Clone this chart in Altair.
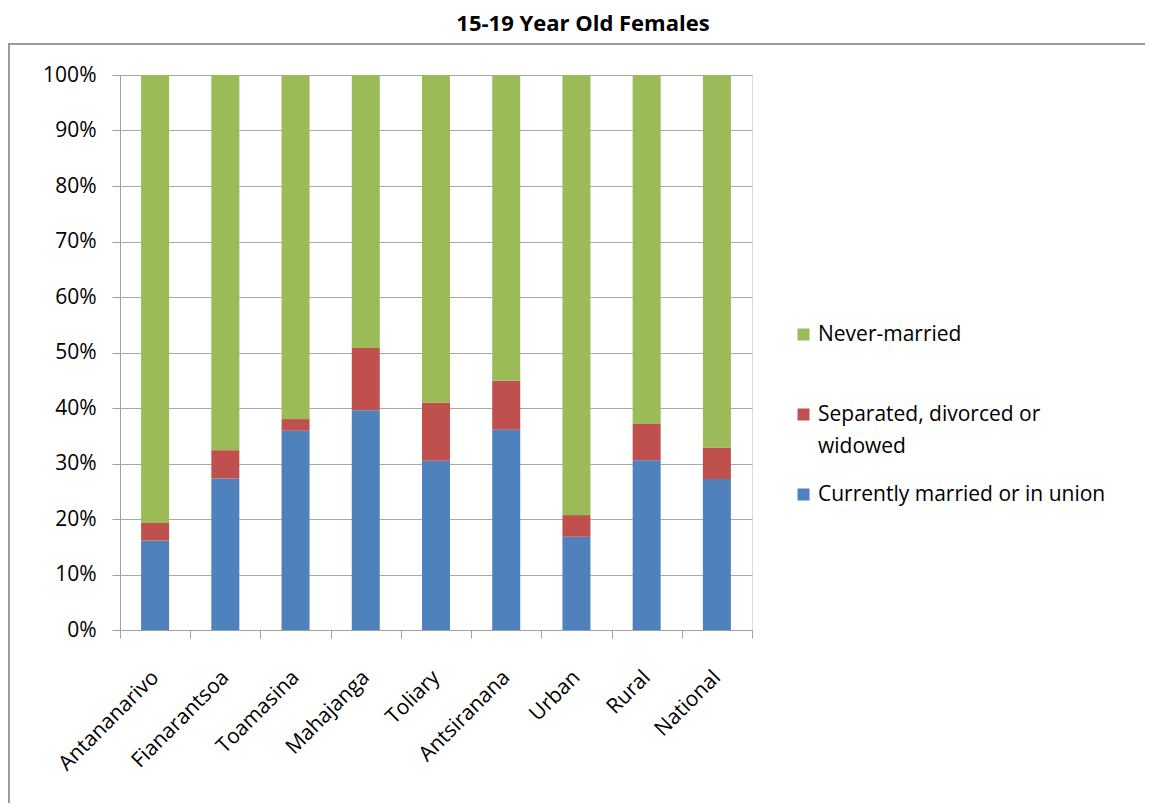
import altair as alt
import pandas as pd

categories = ["Antananarivo", "Fianarantsoa", "Toamasina", "Mahajanga", "Toliary",
              "Antsiranana", "Urban", "Rural", "National"]
series = ["Never-married", "Separated, divorced or widowed", "Currently married or in union"]
married = [16.1, 27.3, 35.9, 39.6, 30.5, 36.1, 16.8, 30.6, 27.2]
separated = [3.2, 5.1, 2.1, 11.2, 10.5, 8.8, 3.9, 6.5, 5.7]
never = [round(100 - m - s, 1) for m, s in zip(married, separated)]
colors = ["#9BBB59", "#C0504D", "#4F81BD"]

rows = []
for i, c in enumerate(categories):
    rows.append({"cat": c, "series": series[2], "value": married[i], "ord": 0})
    rows.append({"cat": c, "series": series[1], "value": separated[i], "ord": 1})
    rows.append({"cat": c, "series": series[0], "value": never[i], "ord": 2})
df = pd.DataFrame(rows)

FONT = "Open Sans"
FS = 21

frame = alt.Chart(pd.DataFrame({"a": [0]})).mark_rect(
    fill=None, stroke="#9a9a9a", strokeWidth=2
).encode(x=alt.value(-111), x2=alt.value(1040), y=alt.value(-31), y2=alt.value(740))

legend_expr = ("datum.label == 'Separated, divorced or widowed' ? ['Separated, divorced or', 'widowed'] : "
               "[datum.label, '']")

bars = alt.Chart(df).mark_bar(size=28).encode(
    x=alt.X("cat:N", sort=categories, title=None,
            scale=alt.Scale(paddingInner=0, paddingOuter=0),
            axis=alt.Axis(labelAngle=-45, labelAlign="right", labelBaseline="middle",
                          labelFontSize=FS, labelFont=FONT, labelColor="#000000",
                          labelPadding=36, tickBand="extent", tickSize=8,
                          tickColor="#a0a0a0", domainColor="#a0a0a0", grid=False)),
    y=alt.Y("value:Q", stack="zero", title=None,
            scale=alt.Scale(domain=[0, 100]),
            axis=alt.Axis(values=[0, 10, 20, 30, 40, 50, 60, 70, 80, 90, 100],
                          labelExpr="datum.value + '%'",
                          labelFontSize=FS, labelFont=FONT, labelColor="#000000",
                          labelPadding=16, tickSize=8, tickColor="#a0a0a0",
                          domainColor="#a0a0a0", gridColor="#a8a8a8", gridWidth=1)),
    color=alt.Color("series:N", scale=alt.Scale(domain=series, range=colors),
                    legend=alt.Legend(title=None, orient="none", legendX=673, legendY=249,
                                      symbolType="square", symbolSize=144,
                                      symbolStrokeWidth=0, labelOffset=4,
                                      labelFontSize=FS, labelFont=FONT, labelColor="#000000",
                                      labelLimit=400, rowPadding=26,
                                      labelExpr=legend_expr)),
    order=alt.Order("ord:Q"),
)

chart = alt.layer(bars, frame).properties(
    width=632, height=555,
    autosize=alt.AutoSizeParams(type="none"),
    padding={"left": 112, "top": 67, "right": 393, "bottom": 173},
    title=alt.TitleParams("15-19 Year Old Females", font=FONT, fontSize=22,
                          fontWeight="bold", color="#000000", anchor="middle",
                          dx=147, offset=7),
).configure_view(stroke=None).configure(
    background="white", style={"guide-label": {"lineHeight": 32}}
)

chart.save("out.html", embed_options={"renderer": "svg", "actions": False})
